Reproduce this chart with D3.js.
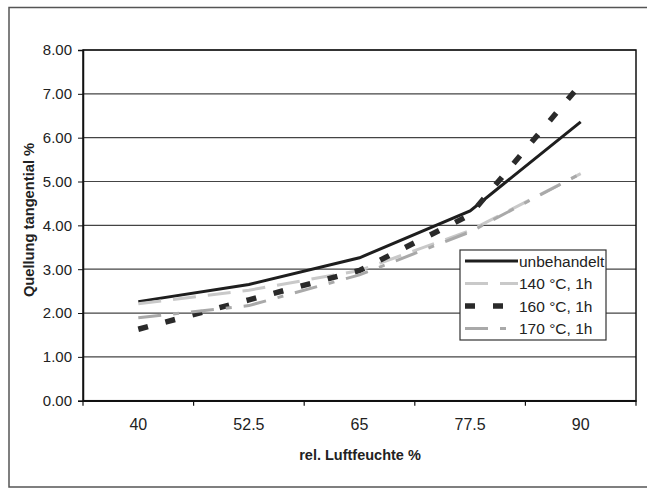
<!DOCTYPE html>
<html><head><meta charset="utf-8">
<script src="https://cdn.jsdelivr.net/npm/d3@7"></script>
<style>body{margin:0;background:#fff;}svg{display:block;font-family:Arial,"Liberation Sans",sans-serif;}</style>
</head><body><svg id="c" width="647" height="488"></svg>
<script>
const categories = ["40", "52.5", "65", "77.5", "90"];
const seriesNames = ["unbehandelt", "140 °C, 1h", "160 °C, 1h", "170 °C, 1h"];
const unbehandelt = [2.26, 2.65, 3.26, 4.33, 6.36];
const s140 = [2.21, 2.52, 2.97, 3.88, 5.18];
const s160 = [1.63, 2.30, 2.97, 4.24, 7.22];
const s170 = [1.89, 2.17, 2.87, 3.85, 5.18];
const yTicks = [0, 1, 2, 3, 4, 5, 6, 7, 8];
const xTitle = "rel. Luftfeuchte %";
const yTitle = "Quellung tangential %";

const styles = [
  {color:"#1e1e1e", width:3, dash:null},
  {color:"#c9c9c9", width:3, dash:"23,12"},
  {color:"#2a2a2a", width:5.5, dash:"10,18"},
  {color:"#a9a9a9", width:3, dash:"23,12,6,12"}
];
const seriesData = [unbehandelt, s140, s160, s170];

const svg = d3.select("#c");
const L = 83, R = 636, T = 50, B = 400.7;

// outer frame
svg.append("rect").attr("x",9).attr("y",7.5).attr("width",645).attr("height",479.5)
  .attr("fill","none").attr("stroke","#555").attr("stroke-width",1.5);

const x = d3.scaleBand().domain(categories).range([L, R]);
const y = d3.scaleLinear().domain([0, 8]).range([B, T]);

// gridlines
svg.append("g").selectAll("line").data(yTicks.filter(d=>d>0)).join("line")
  .attr("x1",L).attr("x2",R).attr("y1",d=>y(d)).attr("y2",d=>y(d))
  .attr("stroke","#444").attr("stroke-width",1.2);

// plot border
svg.append("rect").attr("x",L).attr("y",T).attr("width",R-L).attr("height",B-T)
  .attr("fill","none").attr("stroke","#111").attr("stroke-width",1.5);

// y axis
const ya = svg.append("g").attr("transform",`translate(${L},0)`)
  .call(d3.axisLeft(y).tickValues(yTicks).tickFormat(d3.format(".2f")).tickSizeOuter(0).tickSize(5).tickPadding(6));
ya.select(".domain").attr("stroke","#111").attr("stroke-width",1.5);
ya.selectAll(".tick line").attr("stroke","#111");
ya.selectAll(".tick text").attr("font-size",15).attr("fill","#222").attr("font-family","Arial, 'Liberation Sans', sans-serif");

// x axis
const xa = svg.append("g").attr("transform",`translate(0,${B})`)
  .call(d3.axisBottom(x).tickSize(0).tickPadding(18));
xa.select(".domain").attr("stroke","#111").attr("stroke-width",1.5);
xa.selectAll(".tick text").attr("font-size",16).attr("fill","#222").attr("font-family","Arial, 'Liberation Sans', sans-serif");
// category boundary ticks
const bounds = categories.map(c=>x(c)).concat([x(categories[categories.length-1])+x.bandwidth()]);
svg.append("g").selectAll("line").data(bounds).join("line")
  .attr("x1",d=>d).attr("x2",d=>d).attr("y1",B).attr("y2",B+5)
  .attr("stroke","#111").attr("stroke-width",1.2);

// lines
const line = d3.line().x((d,i)=>x(categories[i])+x.bandwidth()/2).y(d=>y(d));
seriesData.forEach((data,k)=>{
  const st = styles[k];
  svg.append("path").datum(data).attr("d",line).attr("fill","none")
    .attr("stroke",st.color).attr("stroke-width",st.width)
    .attr("stroke-dasharray",st.dash).attr("stroke-linejoin","miter");
});

// titles
svg.append("text").attr("x",360).attr("y",460).attr("text-anchor","middle")
  .attr("font-size",14.5).attr("font-weight","bold").attr("fill","#222").text(xTitle);
svg.append("text").attr("transform","translate(34,220) rotate(-90)").attr("text-anchor","middle")
  .attr("font-size",14.7).attr("font-weight","bold").attr("fill","#222").text(yTitle);

// legend
const lg = svg.append("g");
lg.append("rect").attr("x",460).attr("y",250).attr("width",146).attr("height",90)
  .attr("fill","#fff").attr("stroke","#333").attr("stroke-width",1.2);
const rowY = [261, 283.5, 306, 328.5];
seriesNames.forEach((n,k)=>{
  const st = styles[k];
  lg.append("line").attr("x1",465).attr("x2",518).attr("y1",rowY[k]).attr("y2",rowY[k])
    .attr("stroke",st.color).attr("stroke-width",st.width).attr("stroke-dasharray",st.dash);
  lg.append("text").attr("x",519).attr("y",rowY[k]).attr("dy","0.36em")
    .attr("font-size",15.5).attr("fill","#222").text(n);
});
</script></body></html>
